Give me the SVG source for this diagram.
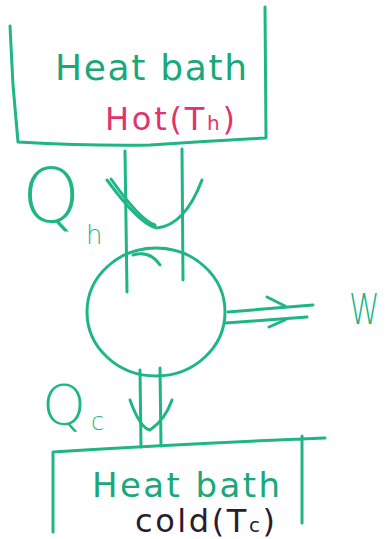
<svg xmlns="http://www.w3.org/2000/svg" width="385" height="539" viewBox="0 0 385 539">
<style>
.s{fill:none;stroke:#1fb585;stroke-width:3;stroke-linecap:round;stroke-linejoin:round}
.g{fill:#1aa87a;font-family:"DejaVu Sans","Liberation Sans",sans-serif}
.r{fill:#e0346e;font-family:"DejaVu Sans","Liberation Sans",sans-serif}
.k{fill:#2b1c2e;font-family:"DejaVu Sans","Liberation Sans",sans-serif}
.q{fill:#1fb585;font-family:"DejaVu Sans","Liberation Sans",sans-serif;font-weight:200}
</style>
<rect width="385" height="539" fill="#fff"/>
<g id="hot-bath">
<path class="s" d="M10,26 L13,85 L18,142 Q90,146 150,145 Q210,141 266,138 L265,7"/>
<text class="g" x="55" y="80" font-size="36" textLength="192" lengthAdjust="spacing">Heat bath</text>
<text class="r" x="105" y="130" font-size="32" textLength="130" lengthAdjust="spacing">Hot(T<tspan font-size="20">h</tspan>)</text>
</g>
<g id="engine">
<ellipse class="s" cx="156" cy="312" rx="69" ry="64"/>
<path class="s" d="M133,255 Q150,250 160,265"/>
</g>
<g id="cold-bath">
<path class="s" d="M53,532 L53,452 Q180,444 325,438 M302,436 L302,523"/>
<text class="g" x="92" y="497" font-size="34" textLength="188" lengthAdjust="spacing">Heat bath</text>
<text class="k" x="135" y="532" font-size="32" textLength="140" lengthAdjust="spacing">cold(T<tspan font-size="20">c</tspan>)</text>
</g>
<g id="work-label">
<text class="q" transform="translate(349,324) scale(1,1.35)" x="0" y="0" font-size="31" font-weight="300">W</text>
</g>
<g id="connectors">
<path class="s" d="M125,151 L127,292 M182,149 L183,280"/>
<path class="s" d="M107,180 Q140,225 157,228 Q185,225 202,180"/>
<path class="s" d="M111,179 Q140,220 155,225"/>
<path class="s" d="M140,370 L141,447 M160,368 L161,446"/>
<path class="s" d="M130,400 Q140,428 150,430 Q165,420 172,400"/>
<path class="s" d="M228,312 L313,305 M226,323 L307,317"/>
<path class="s" d="M267,297 L285,306 M269,327 L285,320"/>
</g>
<g id="Qh-label">
<text class="q" x="22" y="222" font-size="74">Q</text>
<text class="q" x="86" y="244" font-size="26">h</text>
</g>
<g id="Qc-label">
<text class="q" x="42" y="424" font-size="56">Q</text>
<text class="q" x="91" y="430" font-size="24">c</text>
</g>
</svg>
